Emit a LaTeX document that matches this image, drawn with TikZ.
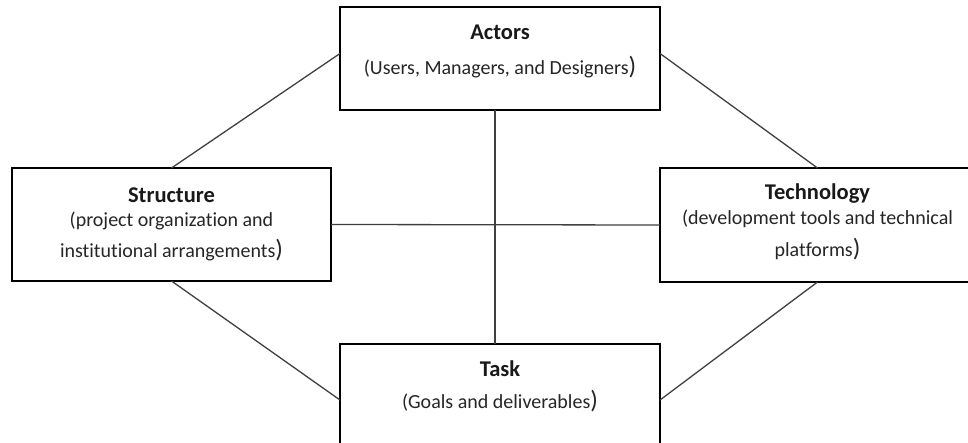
\documentclass[tikz,border=0pt]{standalone}
\usepackage{fontspec}
\setmainfont{Carlito}[Ligatures=NoCommon]
% larger closing parenthesis used at the end of each description
\newcommand\bigclose{{\fontsize{25}{25}\selectfont)}}
\begin{document}
\begin{tikzpicture}[x=1pt,y=-1pt,
  box/.style={draw=black, line width=1.4pt, rectangle, inner sep=0pt, outer sep=0pt},
  link/.style={draw=black!75, line width=1.3pt},
  title/.style={font=\fontsize{22.5}{27}\selectfont\bfseries, text=black!90, anchor=base, inner sep=0pt},
  desc/.style={font=\fontsize{20}{24}\selectfont, text=black!85, anchor=base, inner sep=0pt}]
\useasboundingbox (0,0) rectangle (968,443);
\fill[white] (0,0) rectangle (968,443);

% the four boxes
\node[box, minimum width=320pt, minimum height=103pt] (actors) at (500,58.5) {};
\node[box, minimum width=319pt, minimum height=113pt] (structure) at (171.5,224.5) {};
\node[box, minimum width=315pt, minimum height=114pt] (technology) at (817.5,225) {};
\node[box, minimum width=320pt, minimum height=112pt] (task) at (500,400) {};

% connectors
\draw[link] ([yshift=5pt]actors.west) -- (structure.north);
\draw[link] ([yshift=5pt]actors.east) -- (technology.north);
\draw[link] (structure.south) -- (task.west);
\draw[link] (technology.south) -- (task.east);
\draw[link] (structure.east) -- (technology.west);
\draw[link] ([xshift=-5pt]actors.south) -- ([xshift=-5pt]task.north);

% box texts
\node[title] (actors-t) at (500,39.5) {Actors};
\node[desc] (actors-d) at (500,75) {(Users, Managers, and Designers\bigclose};

\node[title] (structure-t) at (171.5,203) {Structure};
\node[desc] (structure-d1) at (171.5,227) {(project organization and};
\node[desc] (structure-d2) at (171.5,258) {institutional arrangements\bigclose};

\node[title] (technology-t) at (817.5,200) {Technology};
\node[desc] (technology-d1) at (817.5,225) {(development tools and technical};
\node[desc] (technology-d2) at (817.5,256.5) {platforms\bigclose};

\node[title] (task-t) at (500,376.5) {Task};
\node[desc] (task-d) at (500,408) {(Goals and deliverables\bigclose};
\end{tikzpicture}
\end{document}
